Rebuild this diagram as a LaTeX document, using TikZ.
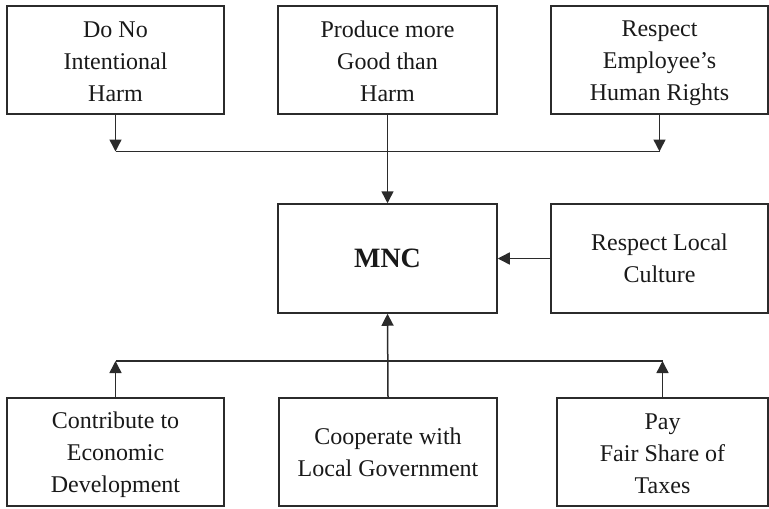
\documentclass[tikz,border=0pt]{standalone}
\usepackage{fontspec}
\setmainfont{Liberation Serif}
\usetikzlibrary{arrows.meta}
\definecolor{ink}{HTML}{2B2B2B}
\newcommand\tsx{\rule{0pt}{11.2pt}}
\newcommand\bsx{\rule[-1.5pt]{0pt}{1.5pt}}
\tikzset{
  box/.style={draw=ink, line width=0.75pt, align=center, inner sep=0pt,
    minimum height=54pt, font=\fontsize{12}{16}\selectfont, text=black!90},
  conn/.style={draw=ink, line width=0.75pt},
  arr/.style={conn, -{Triangle[length=6pt,width=6pt]}},
}
\begin{document}
\begin{tikzpicture}[x=0.5pt,y=-0.5pt]
\useasboundingbox (0,0) rectangle (769,508);
\node[box, minimum width=108.5pt] (t1) at (115.5,60) {\tsx Do No\\Intentional\\Harm\bsx};
\node[box, minimum width=109.5pt] (t2) at (387.5,60) {\tsx Produce more\\Good than\\Harm\bsx};
\node[box, minimum width=108.5pt] (t3) at (659.5,60) {\tsx Respect\\Employee’s\\Human Rights\bsx};
\node[box, minimum width=109.5pt, minimum height=54.5pt, font=\bfseries\fontsize{14}{16}\selectfont] (m) at (387.5,258.5) {MNC};
\node[box, minimum width=108.5pt, minimum height=54.5pt] (r) at (659.5,258.5) {Respect Local\\Culture};
\node[box, minimum width=108.5pt] (b1) at (115.5,452) {\tsx Contribute to\\Economic\\Development\bsx};
\node[box, minimum width=109pt] (b2) at (388,452) {Cooperate with\\Local Government};
\node[box, minimum width=105.5pt] (b3) at (662.5,452) {\tsx Pay\\Fair Share of\\Taxes\bsx};
\coordinate (jt) at (0,151.5);
\coordinate (jb) at (0,361);
% top junction
\draw[arr] (t1.south) -- (t1.south |- jt);
\draw[arr] (t3.south) -- (t3.south |- jt);
\draw[conn] (t1.south |- jt) -- (t3.south |- jt);
\draw[arr] (t2.south) -- (m.north);
% right
\draw[arr] (r.west) -- (m.east);
% bottom junction
\draw[arr] (b1.north) -- (b1.north |- jb);
\draw[arr] (b3.north) -- (b3.north |- jb);
\draw[conn] (b1.north |- jb) -- (b3.north |- jb);
\draw[arr] (b2.north) -- (m.south);
\end{tikzpicture}
\end{document}
